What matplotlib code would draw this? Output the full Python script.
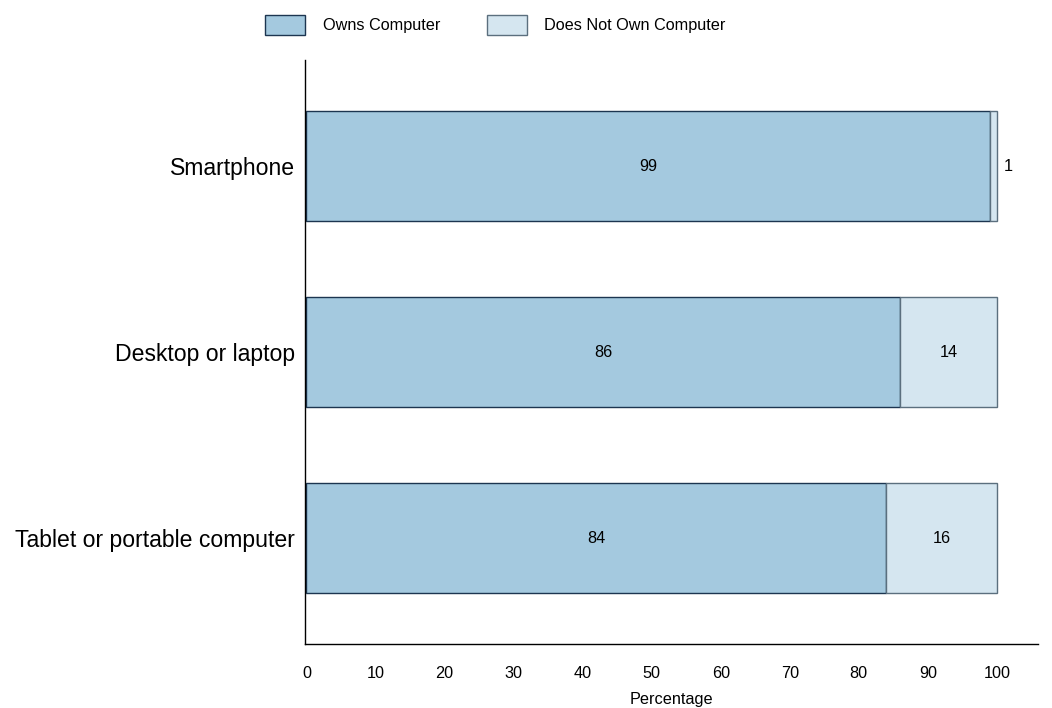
import matplotlib
matplotlib.use("Agg")
import matplotlib.pyplot as plt

plt.rcParams['font.family'] = ['Liberation Sans', 'DejaVu Sans']

# Data
devices = ["Smartphone", "Desktop or laptop", "Tablet or portable computer"]
owns = [99, 86, 84]
not_owns = [1, 14, 16]
x_ticks = [0, 10, 20, 30, 40, 50, 60, 70, 80, 90, 100]

small = 11.7

fig = plt.figure(figsize=(10.52, 7.08), dpi=100)
ax = fig.add_axes([0.29, 0.0904, 0.697, 0.8246])

ypos = list(range(len(devices)))
b1 = ax.barh(ypos, owns, height=0.595, color="#a4c9df", edgecolor="#1c3550",
             linewidth=1.0, label="Owns Computer")
b2 = ax.barh(ypos, not_owns, left=owns, height=0.595, color="#d5e6f0",
             edgecolor="#5b6f7e", linewidth=1.0, label="Does Not Own Computer")

for i in ypos:
    ax.text(owns[i] / 2, i, str(owns[i]), ha="center", va="center", fontsize=small)
    if not_owns[i] < 5:
        ax.text(owns[i] + not_owns[i] + 1.0, i, str(not_owns[i]), ha="left",
                va="center", fontsize=small)
    else:
        ax.text(owns[i] + not_owns[i] / 2, i, str(not_owns[i]), ha="center",
                va="center", fontsize=small)

ax.set_ylim(2.57, -0.57)
ax.set_xlim(-0.2, 106)
ax.set_yticks(ypos)
ax.set_yticklabels(devices, fontsize=16.6)
ax.set_xticks(x_ticks)
ax.set_xticklabels([str(t) for t in x_ticks], fontsize=small)
ax.tick_params(axis="x", length=0, pad=16)
ax.tick_params(axis="y", length=0, pad=7)
ax.set_xlabel("Percentage", fontsize=small, labelpad=8)

for s in ["top", "right"]:
    ax.spines[s].set_visible(False)
ax.spines["left"].set_linewidth(1.0)
ax.spines["bottom"].set_linewidth(1.0)

fig.legend(handles=[b1, b2], loc="center", bbox_to_anchor=(0.471, 0.965),
           ncol=2, frameon=False, fontsize=small, handlelength=2.45,
           handleheight=1.56, columnspacing=2.9, handletextpad=1.08)

fig.savefig("out.png", dpi=100)
